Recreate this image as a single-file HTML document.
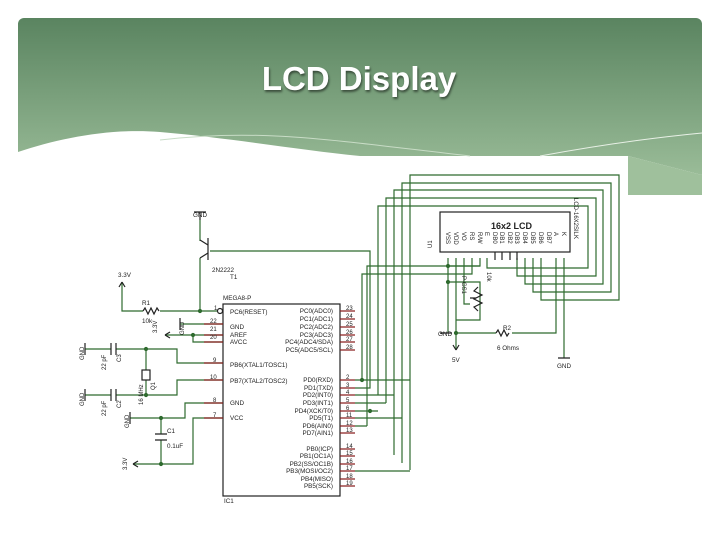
<!DOCTYPE html>
<html><head><meta charset="utf-8"><style>
html,body{margin:0;padding:0;background:#fff;width:720px;height:540px;overflow:hidden}
svg{display:block}
</style></head><body>
<svg width="720" height="540" viewBox="0 0 720 540" xmlns="http://www.w3.org/2000/svg">
<defs>
<linearGradient id="g" x1="0" y1="0" x2="0" y2="1">
<stop offset="0" stop-color="#5a8460"/><stop offset="1" stop-color="#a3c4a0"/>
</linearGradient>
</defs>
<rect x="18" y="18" width="684" height="180" rx="6" fill="url(#g)"/>
<path d="M18 152 C60 138 110 128 160 132 C230 138 300 150 360 156 L628 156 L702 175 L702 540 L0 540 L0 152Z" fill="#fff"/>
<path d="M628 156 L702 175 L702 195 L628 195Z" fill="#9fc09c"/>
<path d="M160 140 C260 128 330 140 470 156" stroke="#c8dcc6" stroke-width="1" fill="none"/>
<path d="M540 156 C600 145 650 138 702 133" stroke="#e8f0e6" stroke-width="1" fill="none"/>
<text x="359" y="90" text-anchor="middle" font-family="Liberation Sans, sans-serif" font-size="33" font-weight="bold" fill="#fff" style="text-shadow:1px 2px 2px rgba(0,0,0,.5)">LCD Display</text>

<g fill="none" stroke="#2f6b2f" stroke-width="1.2">
<path d="M410 470 L410 175 L619 175 L619 300 L541 300 L541 258"/>
<path d="M402 463 L402 183 L611 183 L611 292 L533 292 L533 258"/>
<path d="M394 455 L394 190 L603 190 L603 284 L525 284 L525 258"/>
<path d="M386 403 L386 198 L596 198 L596 276 L517 276 L517 258"/>
<path d="M378 395 L378 206 L588 206 L588 268 L487 268 L487 258"/>
<path d="M210 251 L370 251 L370 388 L355 388"/>
<path d="M362 380 L362 274 L472 274 L472 258"/>
<path d="M367 426 L367 266 L480 266 L480 258"/>
<path d="M355 380 L410 380 M355 395 L394 395 M355 403 L386 403 M355 411 L378 411 M355 418 L402 418 M355 426 L367 426 M355 471 L410 471"/>
<path d="M448 258 L448 333 M456 258 L456 350 M464 258 L464 304 L470 304 M448 266 L480 266 M448 282 L480 282 L480 320 L456 320"/>
<path d="M456 333 L496 333 M512 333 L556 333 L556 258 M564 258 L564 358"/>
<path d="M200 220 L200 241 M200 258 L200 311 M122 282 L122 311 L143 311 M160 311 L218 311"/>
<path d="M180 324 L223 324 M165 335 L223 335 M193 335 L193 342 L223 342"/>
<path d="M85 349 L111 349 M116 349 L177 349 L177 363 L223 363 M85 395 L111 395 M116 395 L177 395 L177 380 L223 380 M146 349 L146 370 M146 380 L146 395"/>
<path d="M130 418 L185 418 L185 403 L223 403 M161 418 L161 434 M161 440 L161 464 M133 464 L193 464 L193 418 L223 418"/>
</g>
<g stroke="#2f6b2f" stroke-width="1.2" fill="#2f6b2f">
<circle cx="448" cy="266" r="1.5"/><circle cx="448" cy="282" r="1.5"/><circle cx="456" cy="333" r="1.5"/><circle cx="200" cy="311" r="1.5"/><circle cx="193" cy="335" r="1.5"/><circle cx="146" cy="349" r="1.5"/><circle cx="146" cy="395" r="1.5"/><circle cx="161" cy="418" r="1.5"/><circle cx="161" cy="464" r="1.5"/><circle cx="362" cy="380" r="1.5"/><circle cx="370" cy="411" r="1.5"/>
</g>
<g stroke="#222" stroke-width="1.2" fill="none">
<rect x="223" y="304" width="117" height="192"/>
<rect x="440" y="212" width="130" height="40"/>
<path d="M208 238 L208 260 M208 245 L200 240 M208 253 L200 258 M200 220 L200 212 M194 212 L206 212"/>
<path d="M143 311 l2 -3 l3 6 l3 -6 l3 6 l3 -6 l2 3"/>
<path d="M496 333 l2 -3 l3 6 l3 -6 l3 6 l2 -3"/>
<path d="M478 287 l-4 4 l8 4 l-8 4 l8 4 l-8 4 l4 4 M470 298 L476 298"/>
<path d="M111 343 L111 355 M116 343 L116 355 M111 389 L111 401 M116 389 L116 401 M155 434 L167 434 M155 440 L167 440"/>
<rect x="142" y="370" width="8" height="10"/>
<path d="M85 343 L85 355 M85 389 L85 401 M130 412 L130 424 M180 318 L180 330 M440 333 L452 333 M558 358 L570 358"/>
<path d="M122 282 l-3 5 M122 282 l3 5 M165 335 l5 -3 M165 335 l5 3 M133 464 l5 -3 M133 464 l5 3 M456 350 l-3 -5 M456 350 l3 -5"/>
<circle cx="220" cy="311" r="2.5"/>
<path d="M495 252 v8 M502 252 v8 M510 252 v8 M517 252 v8"/>
</g>
<g stroke="#8b2020" stroke-width="1.2">
<path d="M340 311h15M340 319h15M340 327h15M340 335h15M340 342h15M340 350h15M340 380h15M340 388h15M340 395h15M340 403h15M340 411h15M340 418h15M340 426h15M340 433h15M340 449h15M340 456h15M340 464h15M340 471h15M340 479h15M340 486h15M204 324h19M204 335h19M204 342h19M204 363h19M204 380h19M204 403h19M204 418h19"/>
</g>
<g font-family="Liberation Sans, sans-serif" font-size="6.3" fill="#222">
<text x="193" y="217">GND</text><text x="212" y="272">2N2222</text><text x="230" y="279">T1</text>
<text x="118" y="277">3.3V</text><text x="142" y="305">R1</text><text x="142" y="323">10k</text>
<text x="223" y="300">MEGA8-P</text><text x="224" y="503">IC1</text>
<text x="230" y="314">PC6(RESET)</text><text x="230" y="329">GND</text><text x="230" y="337">AREF</text><text x="230" y="344">AVCC</text>
<text x="230" y="367">PB6(XTAL1/TOSC1)</text><text x="230" y="383">PB7(XTAL2/TOSC2)</text><text x="230" y="405">GND</text><text x="230" y="420">VCC</text>
<g text-anchor="end">
<text x="333" y="313">PC0(ADC0)</text><text x="333" y="321">PC1(ADC1)</text><text x="333" y="329">PC2(ADC2)</text><text x="333" y="337">PC3(ADC3)</text><text x="333" y="344">PC4(ADC4/SDA)</text><text x="333" y="352">PC5(ADC5/SCL)</text>
<text x="333" y="382">PD0(RXD)</text><text x="333" y="390">PD1(TXD)</text><text x="333" y="397">PD2(INT0)</text><text x="333" y="405">PD3(INT1)</text><text x="333" y="413">PD4(XCK/T0)</text><text x="333" y="420">PD5(T1)</text><text x="333" y="428">PD6(AIN0)</text><text x="333" y="435">PD7(AIN1)</text>
<text x="333" y="451">PB0(ICP)</text><text x="333" y="458">PB1(OC1A)</text><text x="333" y="466">PB2(SS/OC1B)</text><text x="333" y="473">PB3(MOSI/OC2)</text><text x="333" y="481">PB4(MISO)</text><text x="333" y="488">PB5(SCK)</text>
</g>
<g font-size="6">
<text x="346" y="310">23</text><text x="346" y="318">24</text><text x="346" y="326">25</text><text x="346" y="334">26</text><text x="346" y="341">27</text><text x="346" y="349">28</text>
<text x="346" y="379">2</text><text x="346" y="387">3</text><text x="346" y="394">4</text><text x="346" y="402">5</text><text x="346" y="410">6</text><text x="346" y="417">11</text><text x="346" y="425">12</text><text x="346" y="432">13</text>
<text x="346" y="448">14</text><text x="346" y="455">15</text><text x="346" y="463">16</text><text x="346" y="470">17</text><text x="346" y="478">18</text><text x="346" y="485">19</text>
<text x="210" y="323">22</text><text x="210" y="331">21</text><text x="210" y="339">20</text><text x="213" y="362">9</text><text x="210" y="379">10</text><text x="213" y="402">8</text><text x="213" y="417">7</text><text x="214" y="310">1</text>
</g>
<text x="167" y="433">C1</text><text x="167" y="448">0.1uF</text>
<text x="503" y="330">R2</text><text x="497" y="350">6 Ohms</text>
<text x="438" y="336">GND</text><text x="452" y="362">5V</text><text x="557" y="368">GND</text>
<text x="491" y="229" font-size="9" font-weight="bold">16x2 LCD</text>
<g font-size="6">
<text transform="translate(84,360) rotate(-90)">GND</text>
<text transform="translate(84,406) rotate(-90)">GND</text>
<text transform="translate(129,428) rotate(-90)">GND</text>
<text transform="translate(184,335) rotate(-90)">GND</text>
<text transform="translate(157,333) rotate(-90)">3.3V</text>
<text transform="translate(127,470) rotate(-90)">3.3V</text>
<text transform="translate(106,370) rotate(-90)">22 pF</text>
<text transform="translate(121,362) rotate(-90)">C3</text>
<text transform="translate(106,416) rotate(-90)">22 pF</text>
<text transform="translate(121,408) rotate(-90)">C2</text>
<text transform="translate(143,405) rotate(-90)">16 MHz</text>
<text transform="translate(155,390) rotate(-90)">Q1</text>
<text transform="translate(487,272) rotate(90)">10k</text>
<text transform="translate(462,276) rotate(90)">P-GS1</text>
<text transform="translate(432,248) rotate(-90)">U1</text>
<text transform="translate(574,198) rotate(90)">LCD-16X2SILK</text>
<g>
<text transform="translate(446,232) rotate(90)">VSS</text><text transform="translate(454,232) rotate(90)">VDD</text><text transform="translate(462,232) rotate(90)">VO</text><text transform="translate(470,232) rotate(90)">RS</text><text transform="translate(478,232) rotate(90)">R/W</text><text transform="translate(485,232) rotate(90)">E</text><text transform="translate(493,232) rotate(90)">DB0</text><text transform="translate(500,232) rotate(90)">DB1</text><text transform="translate(508,232) rotate(90)">DB2</text><text transform="translate(515,232) rotate(90)">DB3</text><text transform="translate(523,232) rotate(90)">DB4</text><text transform="translate(531,232) rotate(90)">DB5</text><text transform="translate(539,232) rotate(90)">DB6</text><text transform="translate(547,232) rotate(90)">DB7</text><text transform="translate(554,232) rotate(90)">A</text><text transform="translate(562,232) rotate(90)">K</text>
</g>
</g>
</g>
</svg>
</body></html>
